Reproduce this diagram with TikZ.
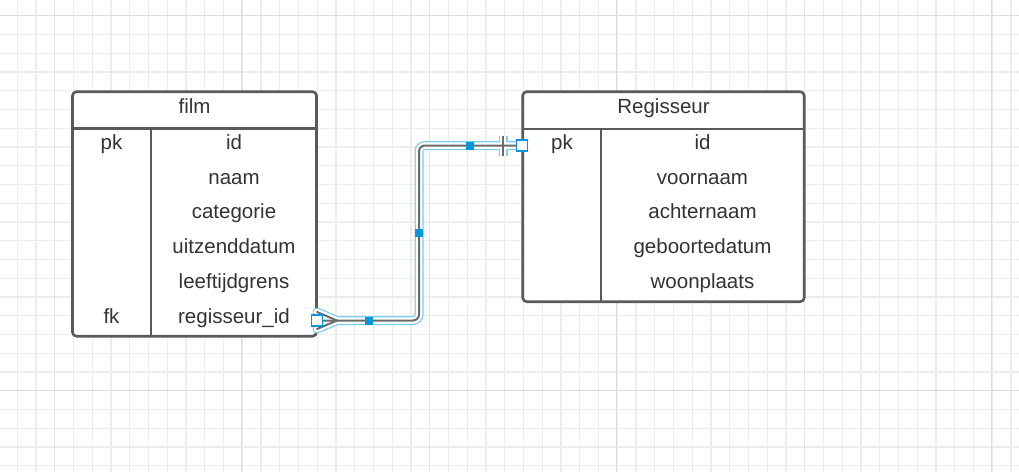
\documentclass[tikz,border=0pt]{standalone}
\usepackage{fontspec}
\setmainfont{Liberation Sans}
\definecolor{gridminor}{HTML}{EDEDED}
\definecolor{gridmid}{HTML}{E6E6E6}
\definecolor{gridmajor}{HTML}{DCDCDC}
\definecolor{tblline}{HTML}{5A5A5A}
\definecolor{txt}{HTML}{333333}
\definecolor{halo}{HTML}{7ACCF0}
\definecolor{selblue}{HTML}{0A96DC}
\begin{document}
\begin{tikzpicture}[x=1pt,y=-1pt,
  tbl/.style={draw=tblline,line width=2.6pt,rounded corners=4pt,inner sep=0pt,outer sep=0pt,anchor=north west},
  sep/.style={draw=tblline,line width=2.6pt},
  lbl/.style={font=\fontsize{20.5}{24}\selectfont,text=txt,anchor=base,inner sep=0pt},
  halobase/.style={draw=halo,line width=9pt,rounded corners=6pt},
  halowhite/.style={draw=white,line width=6.5pt,rounded corners=6pt},
  conn/.style={draw=tblline!90,line width=2pt,rounded corners=6pt},
  endsq/.style={draw=selblue,line width=1.4pt,fill=white,minimum size=11pt,inner sep=0pt},
  midsq/.style={fill=selblue,minimum size=8pt,inner sep=0pt}]
\useasboundingbox (0,0) rectangle (1019,472);
\fill[white] (0,0) rectangle (1019,472);
% grid
\begin{scope}
\clip (0,0) rectangle (1019,472);
\foreach \i in {0,...,53} \draw[gridminor,line width=1.3pt] ({17.3+18.75*\i},0) -- ({17.3+18.75*\i},472);
\foreach \j in {0,...,24} \draw[gridminor,line width=1.3pt] (0,{15.7+18.75*\j}) -- (1019,{15.7+18.75*\j});
\foreach \x in {54.2,429.2,804.2} \draw[gridmid,line width=1.3pt] (\x,0) -- (\x,472);
\foreach \x in {241.7,616.7,991.7} \draw[gridmajor,line width=1.5pt] (\x,0) -- (\x,472);
\foreach \y in {15.7,390.7} \draw[gridmajor,line width=1.5pt] (0,\y) -- (1019,\y);
\end{scope}
% film table
\node[tbl,fill=white,minimum width=244pt,minimum height=244.5pt] (film) at (72.5,91.7) {};
\draw[sep] (72.5,128.7) coordinate (fh1) -- (316.5,128.7) coordinate (fh2);
\draw[sep] (151,128.7) coordinate (fd1) -- (151,336.2) coordinate (fd2);
\node[lbl] (filmt) at (194.5,113.3) {film};
\node[lbl] (fpk) at (111.5,149.5) {pk};
\node[lbl] (ffk) at (111.5,323.5) {fk};
\node[lbl] (f1) at (234,149.5) {id};
\node[lbl] (f2) at (234,184.2) {naam};
\node[lbl] (f3) at (234,218.9) {categorie};
\node[lbl] (f4) at (234,253.6) {uitzenddatum};
\node[lbl] (f5) at (234,288.3) {leeftijdgrens};
\node[lbl] (f6) at (234,323) {regisseur\_id};
% regisseur table
\node[tbl,fill=white,minimum width=281.5pt,minimum height=210pt] (reg) at (522.7,91.7) {};
\draw[sep] (522.7,129) coordinate (rh1) -- (804.2,129) coordinate (rh2);
\draw[sep] (601,129) coordinate (rd1) -- (601,301.7) coordinate (rd2);
\node[lbl] (regt) at (663.5,113.3) {Regisseur};
\node[lbl] (rpk) at (562,149.5) {pk};
\node[lbl] (r1) at (702.5,149.5) {id};
\node[lbl] (r2) at (702.5,184.2) {voornaam};
\node[lbl] (r3) at (702.5,218.9) {achternaam};
\node[lbl] (r4) at (702.5,253.6) {geboortedatum};
\node[lbl] (r5) at (702.5,288.3) {woonplaats};
% connector
\coordinate (c1) at (317,320.5);
\coordinate (b1) at (419,320.5);
\coordinate (b2) at (419,145.5);
\coordinate (c2) at (522,145.5);
\coordinate (cfa) at (317,312);
\coordinate (cfb) at (317,329);
\coordinate (cft) at (337,320.5);
\coordinate (bara) at (503,136);
\coordinate (barb) at (503,156);
\foreach \st in {halobase,halowhite,conn}{
  \draw[\st] (c1) -- (b1) -- (b2) -- (c2);
  \draw[\st,rounded corners=0pt,line cap=round] (cfa) -- (cft) -- (cfb);
  \draw[\st,rounded corners=0pt] (bara) -- (barb);
}
\node[midsq] (m1) at (369,320.5) {};
\node[midsq] (m2) at (419,233) {};
\node[midsq] (m3) at (469.5,145.5) {};
\node[endsq] (e1) at (c1) {};
\node[endsq] (e2) at (c2) {};
\end{tikzpicture}
\end{document}
